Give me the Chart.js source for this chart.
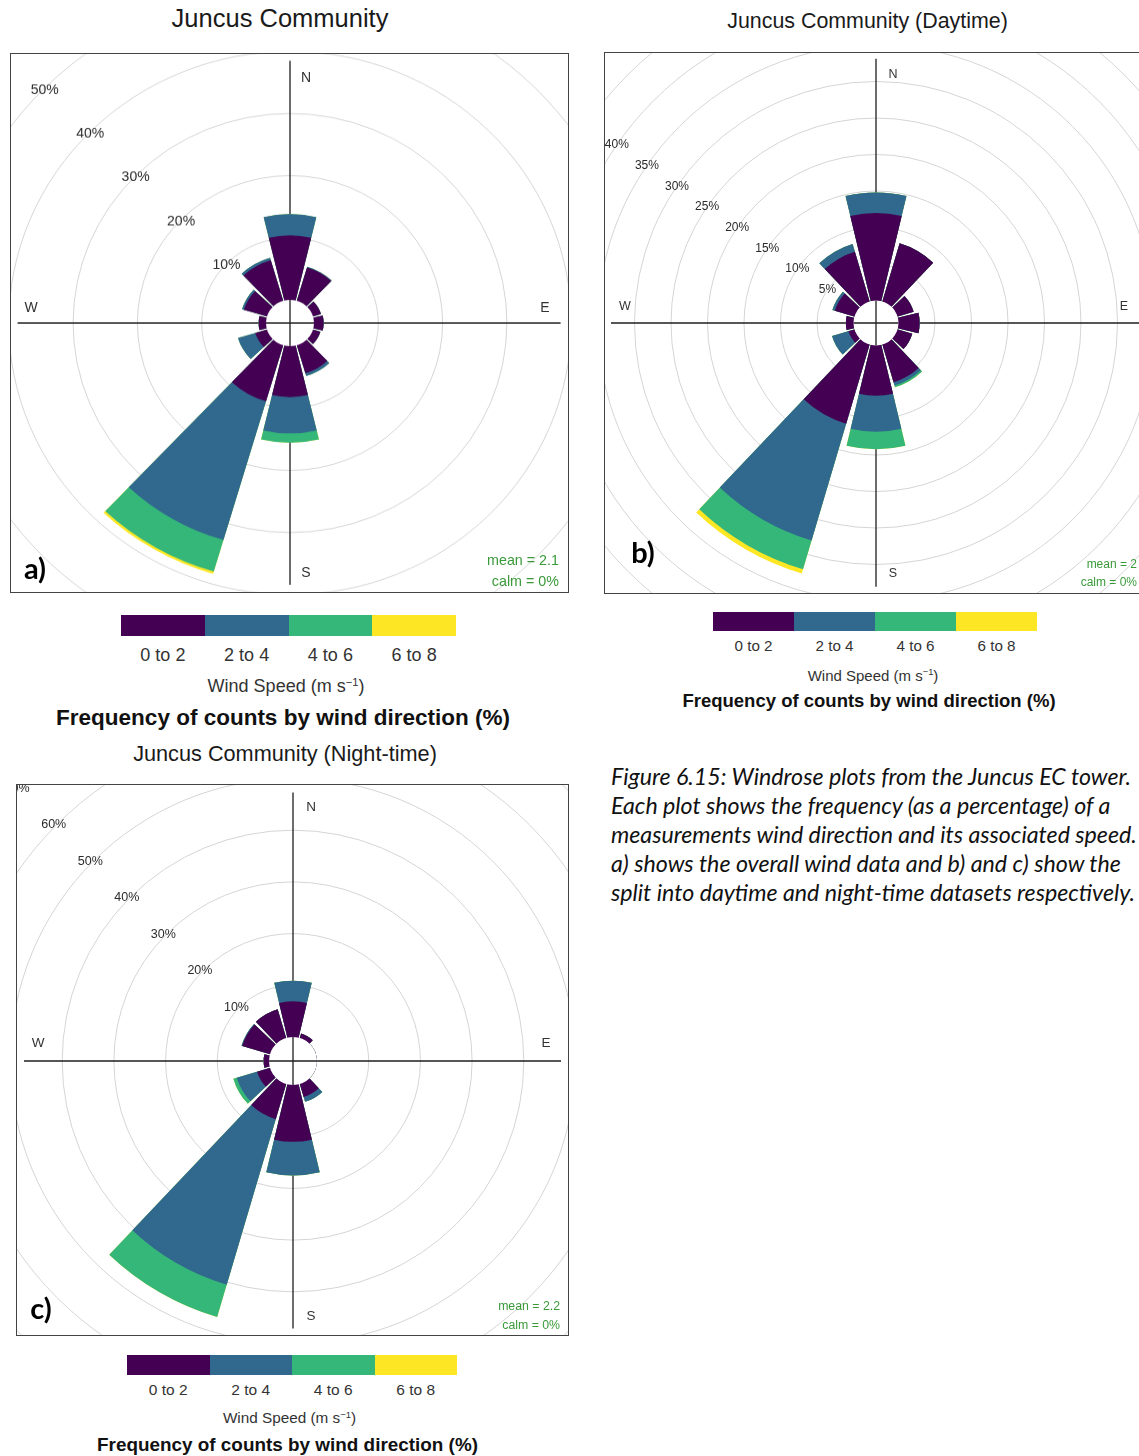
<!DOCTYPE html>
<html lang="en">
<head>
<meta charset="utf-8">
<title>Juncus Community wind roses</title>
<script src="https://cdn.jsdelivr.net/npm/chart.js"></script>
<style>
  html, body { margin: 0; padding: 0; background: #fff; }
  body { position: relative; width: 1139px; height: 1456px; overflow: hidden;
         font-family: "Liberation Sans", Arial, sans-serif; color: #222; }
  .t { position: absolute; white-space: nowrap; line-height: 1; transform: translate(-50%, -50%); }
  .t.right { transform: translate(-100%, -50%); }
  .box { position: absolute; box-sizing: border-box; border: 1px solid #444; overflow: hidden; background: #fff; }
  .box canvas { position: absolute; }
  .bar { position: absolute; display: flex; }
  .bar div { flex: 1; }
  .caption { position: absolute; left: 611px; top: 762px; font-family: Lato, "Open Sans", sans-serif;
             font-style: italic; font-size: 23.2px; line-height: 29px; color: #111; white-space: nowrap; }
  sup { font-size: 0.62em; vertical-align: 0.55em; line-height: 0; }
</style>
</head>
<body>
<script>
// Wind direction sectors (degrees from north) and wind speed classes (m s-1)
const directions = [0, 30, 60, 90, 120, 150, 180, 210, 240, 270, 300, 330];
const speedBins = ['0 to 2', '2 to 4', '4 to 6', '6 to 8'];
const binColours = ['#440154', '#31688E', '#35B779', '#FDE725'];

// a) all data: frequency of counts (%) per direction and speed class
const allSpeed0to2 = [10.4, 5.6, 1.3, 1.5, 1.2, 4.7, 8.2, 9.4, 1.9, 1.15, 3.75, 6.8];
const allSpeed2to4 = [3.4, 0.1, 0, 0, 0, 0.45, 5.85, 23.3, 2.8, 0, 0.3, 0.4];
const allSpeed4to6 = [0, 0, 0, 0, 0, 0, 1.5, 5.3, 0, 0, 0, 0];
const allSpeed6to8 = [0, 0, 0, 0, 0, 0, 0, 0.4, 0, 0, 0, 0];

// b) daytime
const daySpeed0to2 = [12.0, 8.3, 2.3, 2.9, 2.1, 5.4, 6.9, 11.3, 0.85, 1.05, 2.8, 7.1];
const daySpeed2to4 = [2.8, 0, 0, 0, 0, 0.45, 4.9, 16.7, 2.35, 0, 0.35, 1.1];
const daySpeed4to6 = [0, 0, 0, 0, 0, 0.25, 2.4, 4.1, 0, 0, 0, 0];
const daySpeed6to8 = [0, 0, 0, 0, 0, 0, 0, 0.6, 0, 0, 0, 0];

// c) night-time
const nightSpeed0to2 = [6.9, 0.9, 0, 0, 0, 2.6, 11.0, 7.1, 2.6, 1.05, 5.6, 5.8];
const nightSpeed2to4 = [4.0, 0, 0, 0, 0, 1.0, 6.5, 33.4, 4.1, 0, 0.15, 0];
const nightSpeed4to6 = [0, 0, 0, 0, 0, 0, 0, 6.5, 0.7, 0, 0, 0];
const nightSpeed6to8 = [0, 0, 0, 0, 0, 0, 0, 0, 0, 0, 0, 0];

// radial grid rings (%)
const allRings = [10, 20, 30, 40, 50, 60, 70];
const dayRings = [5, 10, 15, 20, 25, 30, 35, 40, 45, 50];
const nightRings = [10, 20, 30, 40, 50, 60, 70];

const CANVAS = 820;          // square drawing surface behind each framed panel
const SECTOR = 27, GAP = 3;  // each 30 degree sector: 27 degrees filled, 3 degrees blank
const GREEN = '#3a9a3a';

const panels = [
  { tag: 'a)', title: 'Juncus Community', titleX: 280, titleY: 19, titleFont: 25.5,
    bins: [allSpeed0to2, allSpeed2to4, allSpeed4to6, allSpeed6to8], rings: allRings,
    box: { x: 10, y: 53, w: 559, h: 540 }, cx: 290.4, cy: 323.3, squashY: 0.966,
    pxPerPct: 6.43, holePx: 24, ringAngle: 45, ringFont: 14, ringNudge: [-1, 3], inset: 8,
    compass: { font: 14, N: [306, 77], W: [31, 307], E: [545, 307], S: [306, 572] },
    tagPos: [35, 567], stats: ['mean = 2.1', 'calm = 0%'], statsX: 559, statsY: [560, 581], statsFont: 14.3,
    legend: { x: 121, y: 615, w: 335, h: 21, labelY: 655, labelFont: 18,
              unitX: 286, unitY: 686, unitFont: 18, headX: 283, headY: 718, headFont: 22.5 } },
  { tag: 'b)', title: 'Juncus Community (Daytime)', titleX: 867.5, titleY: 22, titleFont: 21.4,
    bins: [daySpeed0to2, daySpeed2to4, daySpeed4to6, daySpeed6to8], rings: dayRings,
    box: { x: 604, y: 52, w: 542, h: 542 }, cx: 876, cy: 323.3, squashY: 1,
    pxPerPct: 7.3, holePx: 22.5, ringAngle: 34.5, ringFont: 12, ringNudge: [0, 0], inset: 7,
    compass: { font: 12.5, N: [893, 74], W: [625, 306], E: [1124, 306], S: [893, 573] },
    tagPos: [643, 551], stats: ['mean = 2', 'calm = 0%'], statsX: 1137, statsY: [564, 582], statsFont: 12,
    legend: { x: 713, y: 612, w: 324, h: 19, labelY: 646, labelFont: 15.2,
              unitX: 873, unitY: 675, unitFont: 15, headX: 869, headY: 701, headFont: 18.5 } },
  { tag: 'c)', title: 'Juncus Community (Night-time)', titleX: 285, titleY: 754, titleFont: 21.7,
    bins: [nightSpeed0to2, nightSpeed2to4, nightSpeed4to6, nightSpeed6to8], rings: nightRings,
    box: { x: 16, y: 784, w: 553, h: 552 }, cx: 293, cy: 1060.5, squashY: 1,
    pxPerPct: 5.17, holePx: 24, ringAngle: 45, ringFont: 12.5, ringNudge: [-3, 0], inset: 8,
    compass: { font: 13.5, N: [311, 807], W: [38, 1043], E: [546, 1043], S: [311, 1316] },
    tagPos: [41, 1307], stats: ['mean = 2.2', 'calm = 0%'], statsX: 560, statsY: [1306, 1325], statsFont: 12.3,
    legend: { x: 127, y: 1355, w: 330, h: 20, labelY: 1390, labelFont: 15.5,
              unitX: 289.5, unitY: 1418, unitFont: 15.3, headX: 287.5, headY: 1445, headFont: 18.9 } }
];

function text(html, x, y, style, right) {
  const el = document.createElement('div');
  el.className = 't' + (right ? ' right' : '');
  el.style.left = x + 'px';
  el.style.top = y + 'px';
  Object.assign(el.style, style || {});
  el.innerHTML = html;
  document.body.appendChild(el);
  return el;
}

// axis cross, centre hole and ring labels of a wind rose
const roseDecor = {
  id: 'roseDecor',
  beforeDatasetsDraw(chart, args, o) {
    const r = chart.scales.r, ctx = chart.ctx;
    ctx.save();
    ctx.strokeStyle = '#1f1f1f';
    ctx.lineWidth = 1.3;
    ctx.beginPath();
    ctx.moveTo(r.xCenter, o.top); ctx.lineTo(r.xCenter, o.bottom);
    ctx.moveTo(o.left, r.yCenter); ctx.lineTo(o.right, r.yCenter);
    ctx.stroke();
    ctx.restore();
  },
  afterDatasetsDraw(chart, args, o) {
    const r = chart.scales.r, ctx = chart.ctx;
    const hole = r.getDistanceFromCenterForValue(0);
    ctx.save();
    ctx.fillStyle = '#fff';
    ctx.beginPath();
    ctx.arc(r.xCenter, r.yCenter, hole, 0, Math.PI * 2);
    ctx.fill();
    ctx.strokeStyle = '#1f1f1f';
    ctx.lineWidth = 1.3;
    ctx.beginPath();
    ctx.moveTo(r.xCenter, r.yCenter - hole); ctx.lineTo(r.xCenter, r.yCenter + hole);
    ctx.moveTo(r.xCenter - hole, r.yCenter); ctx.lineTo(r.xCenter + hole, r.yCenter);
    ctx.stroke();
    const a = o.ringAngle * Math.PI / 180;
    ctx.fillStyle = '#2b2b2b';
    ctx.font = o.ringFont + 'px "Liberation Sans", Arial, sans-serif';
    ctx.textAlign = 'center';
    ctx.textBaseline = 'middle';
    r.ticks.forEach(t => {
      const d = r.getDistanceFromCenterForValue(t.value);
      ctx.fillText(t.value + '%', r.xCenter - d * Math.cos(a) + o.dx, r.yCenter - d * Math.sin(a) + o.dy);
    });
    ctx.restore();
  }
};

function buildRose(p) {
  const box = document.createElement('div');
  box.className = 'box';
  Object.assign(box.style, { left: p.box.x + 'px', top: p.box.y + 'px', width: p.box.w + 'px', height: p.box.h + 'px' });
  document.body.appendChild(box);

  const half = CANVAS / 2;
  const canvas = document.createElement('canvas');
  canvas.width = CANVAS;
  canvas.height = CANVAS;
  canvas.style.left = (p.cx - half - (p.box.x + 1)) + 'px';
  canvas.style.top = (p.cy - half - (p.box.y + 1)) + 'px';
  if (p.squashY !== 1) {
    canvas.style.transform = 'scaleY(' + p.squashY + ')';
    canvas.style.transformOrigin = '50% 50%';
  }
  box.appendChild(canvas);

  // stacked speed classes: each dataset holds the running total, smallest class on top
  let running = directions.map(() => 0);
  const datasets = p.bins.map((bin, k) => {
    running = running.map((c, i) => c + bin[i]);
    const data = [];
    running.forEach(v => data.push(v, 0));
    return {
      label: speedBins[k],
      data,
      backgroundColor: ctx => (ctx.dataIndex % 2 ? 'rgba(0,0,0,0)' : binColours[k]),
      angle: ctx => (ctx.dataIndex % 2 ? GAP : SECTOR),
      borderWidth: 0
    };
  });
  const labels = [];
  directions.forEach(d => labels.push(d + '°', ''));

  const minV = -p.holePx / p.pxPerPct;
  const maxV = minV + half / p.pxPerPct;

  new Chart(canvas, {
    type: 'polarArea',
    data: { labels, datasets },
    options: {
      responsive: false,
      animation: false,
      devicePixelRatio: 1,
      events: [],
      layout: { padding: 0 },
      plugins: {
        legend: { display: false },
        tooltip: { enabled: false },
        roseDecor: {
          ringAngle: p.ringAngle,
          ringFont: p.ringFont,
          dx: p.ringNudge[0],
          dy: p.ringNudge[1],
          left: half + (p.box.x + p.inset - p.cx),
          right: half + (p.box.x + p.box.w - p.inset - p.cx),
          top: half + (p.box.y + p.inset - p.cy) / p.squashY,
          bottom: half + (p.box.y + p.box.h - p.inset - p.cy) / p.squashY
        }
      },
      scales: {
        r: {
          min: minV,
          max: maxV,
          startAngle: -SECTOR / 2,
          ticks: { display: false },
          grid: { color: '#d5d5d5', lineWidth: 1, circular: true },
          angleLines: { display: false },
          pointLabels: { display: false },
          afterBuildTicks: scale => { scale.ticks = p.rings.map(v => ({ value: v })); }
        }
      }
    },
    plugins: [roseDecor]
  });

  // panel texts
  text(p.title, p.titleX, p.titleY, { fontSize: p.titleFont + 'px', color: '#1a1a1a' });
  const c = p.compass;
  ['N', 'W', 'E', 'S'].forEach(k => text(k, c[k][0], c[k][1], { fontSize: c.font + 'px', color: '#333' }));
  text(p.tag, p.tagPos[0], p.tagPos[1], { fontFamily: 'Lato, "Open Sans", sans-serif', fontWeight: '700', fontSize: '29px', color: '#000' });
  p.stats.forEach((s, i) => text(s, p.statsX, p.statsY[i], { fontSize: p.statsFont + 'px', color: GREEN }, true));

  // speed key
  const L = p.legend;
  const bar = document.createElement('div');
  bar.className = 'bar';
  Object.assign(bar.style, { left: L.x + 'px', top: L.y + 'px', width: L.w + 'px', height: L.h + 'px' });
  binColours.forEach(col => { const s = document.createElement('div'); s.style.background = col; bar.appendChild(s); });
  document.body.appendChild(bar);
  speedBins.forEach((lab, i) => text(lab, L.x + L.w * (i + 0.5) / speedBins.length, L.labelY, { fontSize: L.labelFont + 'px', color: '#333' }));
  text('Wind Speed (m s<sup>−1</sup>)', L.unitX, L.unitY, { fontSize: L.unitFont + 'px', color: '#333' });
  text('Frequency of counts by wind direction (%)', L.headX, L.headY, { fontSize: L.headFont + 'px', fontWeight: '700', color: '#111' });
}

panels.forEach(buildRose);

const cap = document.createElement('div');
cap.className = 'caption';
cap.innerHTML = [
  'Figure 6.15: Windrose plots from the Juncus EC tower.',
  'Each plot shows the frequency (as a percentage) of a',
  'measurements wind direction and its associated speed.',
  'a) shows the overall wind data and b) and c) show the',
  'split into daytime and night-time datasets respectively.'
].join('<br>');
document.body.appendChild(cap);
</script>
</body>
</html>
